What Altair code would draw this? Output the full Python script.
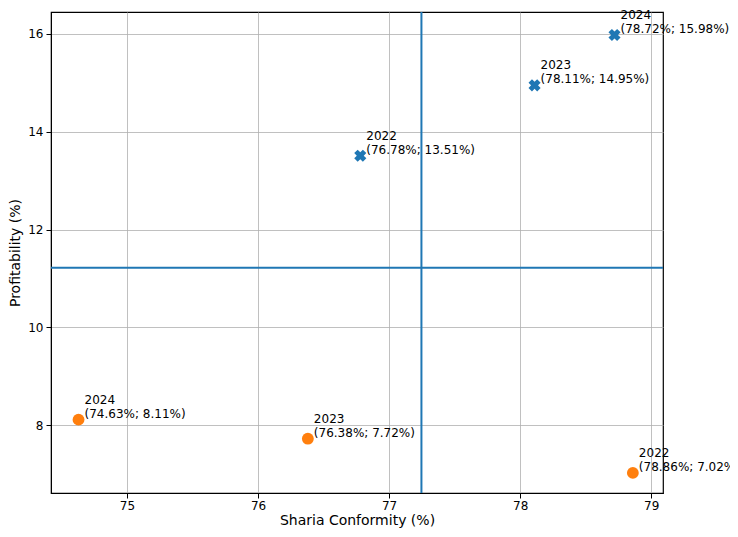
import altair as alt
import pandas as pd

years = ["2022", "2023", "2024", "2022", "2023", "2024"]
groups = ["A", "A", "A", "B", "B", "B"]
conformity = [76.78, 78.11, 78.72, 78.86, 76.38, 74.63]
profitability = [13.51, 14.95, 15.98, 7.02, 7.72, 8.11]

labels = [f"{yr}\n({x:.2f}%; {y:.2f}%)" for yr, x, y in zip(years, conformity, profitability)]
df = pd.DataFrame({"year": years, "group": groups, "x": conformity, "y": profitability, "label": labels})

xs = alt.Scale(domain=[74.42, 79.09], nice=False, zero=False)
ys = alt.Scale(domain=[6.609, 16.45], nice=False, zero=False)
font = "DejaVu Sans"

xax = alt.Axis(values=[75, 76, 77, 78, 79], format="d", title="Sharia Conformity (%)", grid=True,
               gridColor="#b0b0b0", gridWidth=0.8, domainColor="black", tickColor="black",
               tickSize=5, labelFont=font, labelFontSize=12, labelColor="black",
               titleFont=font, titleFontSize=14, titleFontWeight="normal", titleColor="black",
               labelPadding=2, titlePadding=2)
yax = alt.Axis(values=[8, 10, 12, 14, 16], format="d", title="Profitability (%)", grid=True,
               gridColor="#b0b0b0", gridWidth=0.8, domainColor="black", tickColor="black",
               tickSize=5, labelFont=font, labelFontSize=12, labelColor="black",
               titleFont=font, titleFontSize=14, titleFontWeight="normal", titleColor="black",
               labelPadding=3, titlePadding=5)

base = alt.Chart(df)

vline = base.mark_rule(color="#1f77b4", strokeWidth=2).encode(
    x=alt.X("mean(x):Q", scale=xs, axis=xax))
hline = base.mark_rule(color="#1f77b4", strokeWidth=2).encode(
    y=alt.Y("mean(y):Q", scale=ys, axis=yax))

color = alt.Color("group:N", scale=alt.Scale(domain=["A", "B"], range=["#1f77b4", "#ff7f0e"]), legend=None)

crosses = base.transform_filter(alt.datum.group == "A").mark_point(
    shape="cross", angle=45, filled=True, size=150, opacity=1).encode(
    x=alt.X("x:Q", scale=xs), y=alt.Y("y:Q", scale=ys), color=color)
circles = base.transform_filter(alt.datum.group == "B").mark_point(
    shape="circle", filled=True, size=140, opacity=1).encode(
    x=alt.X("x:Q", scale=xs), y=alt.Y("y:Q", scale=ys), color=color)

text = base.mark_text(align="left", baseline="alphabetic", dx=6, dy=-16, font=font,
                      fontSize=12, lineBreak="\n", color="black", lineHeight=14).encode(
    x=alt.X("x:Q", scale=xs), y=alt.Y("y:Q", scale=ys), text="label:N")

chart = alt.layer(vline, hline, crosses, circles, text).properties(
    width=612, height=481,
    autosize=alt.AutoSizeParams(type="none"),
    padding={"left": 43, "top": 4, "right": 67, "bottom": 36},
).configure_view(stroke="black", strokeWidth=1.2)

chart.save("out.html", embed_options={"renderer": "svg", "actions": False})
